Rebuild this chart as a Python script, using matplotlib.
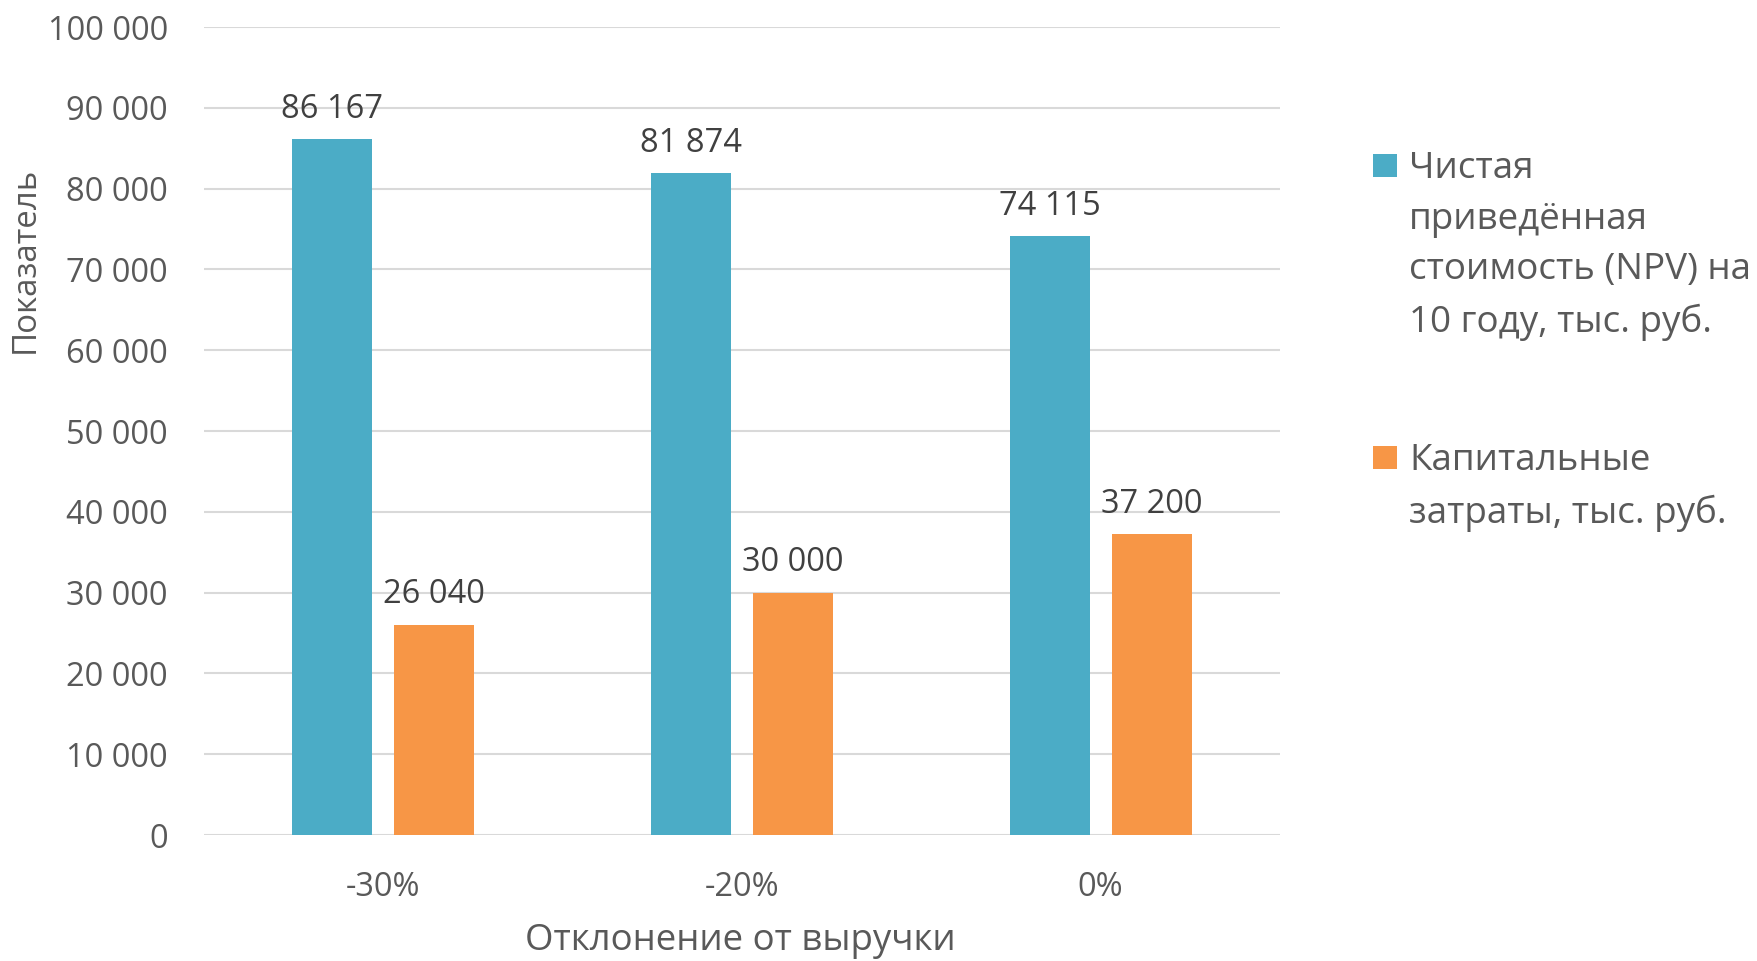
import matplotlib
matplotlib.use("Agg")
import matplotlib.pyplot as plt
import numpy as np
from matplotlib.ticker import FuncFormatter
from matplotlib.patches import Rectangle

plt.rcParams["font.family"] = ["Open Sans", "DejaVu Sans"]

categories = ["-30%", "-20%", "0%"]
npv = [86167, 81874, 74115]
capex = [26040, 30000, 37200]
series_names = [
    "Чистая\nприведённая\nстоимость (NPV) на\n10 году, тыс. руб.",
    "Капитальные\nзатраты, тыс. руб.",
]
colors = ["#4BACC6", "#F79646"]
yticks = np.arange(0, 100001, 10000)

text_gray = "#595959"
label_gray = "#404040"

W, H = 1757, 961
fig = plt.figure(figsize=(W / 100, H / 100), dpi=100)
ax = fig.add_axes([0.1161, 0.1311, 0.6124, 0.8408])

x = np.arange(len(categories))
bw = 0.223
off = 0.142
bars1 = ax.bar(x - off, npv, width=bw, color=colors[0], zorder=3)
bars2 = ax.bar(x + off, capex, width=bw, color=colors[1], zorder=3)


def fmt(v, pos=None):
    return f"{int(v):,}".replace(",", " ")


for bars in (bars1, bars2):
    for b in bars:
        ax.annotate(fmt(b.get_height()), (b.get_x() + b.get_width() / 2, b.get_height()),
                    xytext=(0, 9.5), textcoords="offset points", ha="center", va="bottom",
                    fontsize=23.5, color=label_gray)

ax.set_xlim(-0.5, len(categories) - 0.5)
ax.set_ylim(0, 100000)
ax.set_yticks(yticks)
ax.yaxis.set_major_formatter(FuncFormatter(fmt))
ax.set_xticks(x)
ax.set_xticklabels(categories)
ax.grid(axis="y", color="#D9D9D9", linewidth=1.5, zorder=0)
for s in ax.spines.values():
    s.set_visible(False)
ax.tick_params(axis="both", length=0, labelsize=23.5, colors=text_gray)
ax.tick_params(axis="y", pad=26)
ax.tick_params(axis="x", pad=26)

# axis titles placed like the original (y title sits high, not centred)
fig.text(25 / W, 1 - 260 / H, "Показатель", rotation=90, ha="center", va="center",
         fontsize=23.8, color=text_gray)
fig.text(740 / W, 1 - 941 / H, "Отклонение от выручки", ha="center", va="center",
         fontsize=26.4, color=text_gray)

# legend: square aligned with first line of each label
leg_tops = [151, 443]
for name, c, top in zip(series_names, colors, leg_tops):
    fig.patches.append(Rectangle((1373 / W, 1 - (top + 26) / H), 24 / W, 23 / H,
                                 transform=fig.transFigure, facecolor=c, edgecolor="none"))
    fig.text(1409 / W, 1 - top / H, name, ha="left", va="top", fontsize=26.5,
             color=text_gray, linespacing=1.54)

fig.savefig("out.png", dpi=100)
